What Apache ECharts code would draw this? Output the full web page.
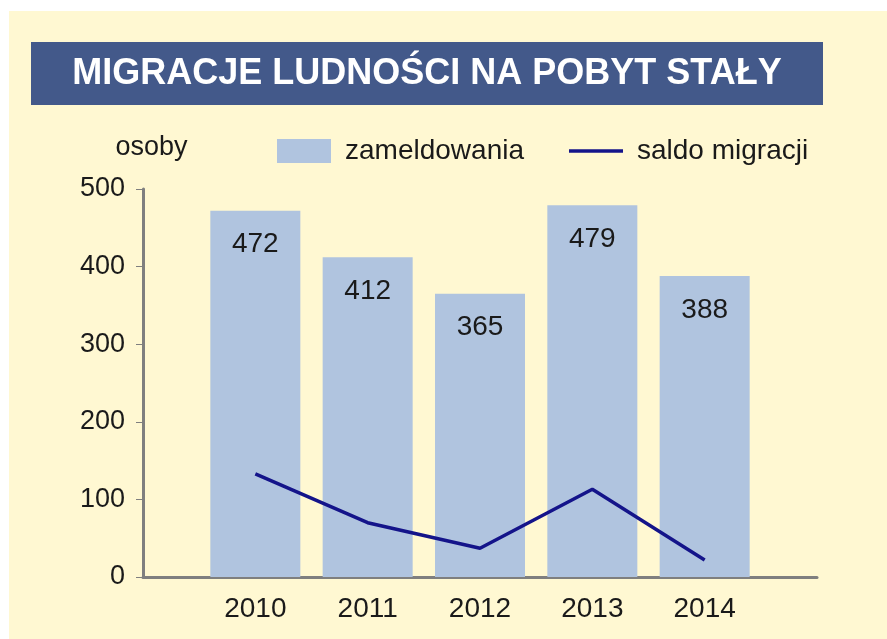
<!DOCTYPE html>
<html>
<head>
<meta charset="utf-8">
<script src="https://cdn.jsdelivr.net/npm/echarts@6/dist/echarts.min.js"></script>
<style>
  html, body { margin: 0; padding: 0; background: #ffffff; }
  #chart { width: 887px; height: 639px; }
</style>
</head>
<body>
<div id="chart"></div>
<script>
  // dane
  var years = ['', '2010', '2011', '2012', '2013', '2014', ''];
  var zameldowania = [null, 472, 412, 365, 479, 388, null];
  var saldoMigracji = [null, 133, 70, 37, 113, 22, null];
  var yTicks = { min: 0, max: 500, interval: 100 };

  var font = '"Liberation Sans", Arial, sans-serif';
  var txt = '#1a1a1a';
  var myChart = echarts.init(document.getElementById('chart'));

  var option = {
    backgroundColor: '#ffffff',
    animation: false,
    textStyle: { fontFamily: font },
    graphic: [
      {
        type: 'rect',
        z: -10,
        silent: true,
        shape: { x: 9, y: 11, width: 878, height: 628 },
        style: { fill: '#fff8d2' }
      },
      {
        type: 'rect',
        z: -5,
        silent: true,
        shape: { x: 31, y: 42, width: 792, height: 63 },
        style: { fill: '#43598a' }
      }
    ],
    title: {
      text: 'MIGRACJE LUDNOŚCI NA POBYT STAŁY',
      left: 427,
      top: 56,
      textAlign: 'center',
      padding: 0,
      textStyle: {
        color: '#ffffff',
        fontFamily: font,
        fontWeight: 'bold',
        fontSize: 36
      }
    },
    legend: {
      left: 277,
      top: 137,
      padding: 0,
      itemWidth: 54,
      itemHeight: 24,
      itemGap: 45,
      textStyle: { fontSize: 28, color: txt, fontFamily: font, padding: [0, 0, 0, 9] },
      data: [
        { name: 'zameldowania', icon: 'rect' },
        { name: 'saldo migracji', icon: 'path://M0,0H54V3.5H0Z' }
      ]
    },
    grid: {
      left: 143,
      right: 70,
      top: 189,
      bottom: 62
    },
    xAxis: {
      type: 'category',
      boundaryGap: false,
      data: years,
      axisLine: { lineStyle: { color: '#7f7f7f', width: 3 } },
      axisTick: { show: false },
      axisLabel: { fontSize: 28, color: txt, margin: 18, interval: 0 },
      splitLine: { show: false }
    },
    yAxis: {
      type: 'value',
      min: yTicks.min,
      max: yTicks.max,
      interval: yTicks.interval,
      name: 'osoby',
      nameLocation: 'end',
      nameGap: 28,
      nameTextStyle: { fontSize: 27, color: txt, fontFamily: font, align: 'center', padding: [0, 0, 0, 17] },
      axisLine: { show: true, lineStyle: { color: '#7f7f7f', width: 3 } },
      axisTick: { show: true, length: 7, lineStyle: { color: '#7f7f7f', width: 1 } },
      axisLabel: { fontSize: 27, color: txt, margin: 18 },
      splitLine: { show: false }
    },
    series: [
      {
        name: 'zameldowania',
        type: 'bar',
        barWidth: 90,
        itemStyle: { color: '#b0c4df' },
        label: {
          show: true,
          position: 'insideTop',
          distance: 20,
          fontSize: 28,
          color: txt,
          fontFamily: font
        },
        data: zameldowania
      },
      {
        name: 'saldo migracji',
        type: 'line',
        symbol: 'none',
        z: 5,
        lineStyle: { color: '#14148a', width: 3.5 },
        itemStyle: { color: '#14148a' },
        data: saldoMigracji
      }
    ]
  };

  myChart.setOption(option);
  window.addEventListener('resize', function () {
    myChart.resize();
  });
</script>
</body>
</html>
